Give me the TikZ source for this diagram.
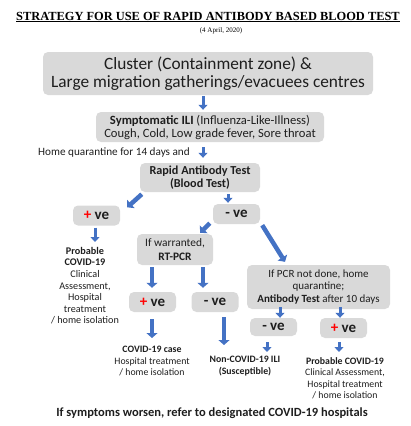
\documentclass[tikz,border=0pt]{standalone}
\usepackage{fontspec}
\setmainfont{Carlito}
\newfontfamily\titlefont{Liberation Serif}
\usetikzlibrary{arrows.meta}
\definecolor{boxgray}{HTML}{D9D9D9}
\definecolor{arrowblue}{HTML}{4472C4}
\definecolor{txt}{HTML}{1E1E1E}
\begin{document}
\begin{tikzpicture}[x=1pt,y=-1pt,
  box/.style={fill=boxgray, rounded corners=5pt, align=center, inner sep=0pt, anchor=center, text=txt},
  vebox/.style={box, minimum width=47pt, minimum height=20pt, font=\fontsize{15}{17}\selectfont\bfseries},
  plain/.style={align=center, inner sep=0pt, text=txt, font=\fontsize{9.8}{11.6}\selectfont},
  barrow/.style={draw=arrowblue, line width=3pt, -{Triangle[width=9pt,length=5pt]}},
  bigarrow/.style={draw=arrowblue, line width=4.5pt, -{Triangle[width=11pt,length=5pt]}},
]
\useasboundingbox (0,0) rectangle (410,426);
% title
\node[inner sep=0pt, font=\titlefont\fontsize{12.4}{14}\selectfont\bfseries] (title) at (208,17)
  {\underline{STRATEGY FOR USE OF RAPID ANTIBODY BASED BLOOD TEST}};
\node[inner sep=0pt, font=\titlefont\fontsize{7}{8}\selectfont] (date) at (221,31) {(4 April, 2020)};
% boxes
\node[box, minimum width=330pt, minimum height=43pt, font=\fontsize{17.3}{18}\selectfont] (b1) at (208,73.5)
  {Cluster (Containment zone) \&\\Large migration gatherings/evacuees centres};
\node[box, minimum width=228pt, minimum height=30pt, font=\fontsize{12.6}{13}\selectfont] (b2) at (210,127)
  {\textbf{Symptomatic ILI} (Influenza-Like-Illness)\\Cough, Cold, Low grade fever, Sore throat};
\node[plain, anchor=west, font=\fontsize{11.2}{13}\selectfont] (hq) at (38,153) {Home quarantine for 14 days and};
\node[box, minimum width=120pt, minimum height=29pt, font=\fontsize{12.2}{13}\selectfont\bfseries] (b3) at (200,177.5)
  {Rapid Antibody Test\\(Blood Test)};
\node[vebox] (p1) at (96.5,215.5) {\textcolor{red}{+} ve};
\node[vebox] (n1) at (236.5,214) {- ve};
\node[box, minimum width=76pt, minimum height=31pt, font=\fontsize{11.4}{14.5}\selectfont] (rt) at (175,249.5)
  {If warranted,\\\textbf{RT-PCR}};
\node[vebox] (p2) at (152.5,302) {\textcolor{red}{+} ve};
\node[vebox] (n2) at (215,302) {- ve};
\node[box, minimum width=143pt, minimum height=44pt, font=\fontsize{11}{12.5}\selectfont] (rb) at (318.5,287)
  {If PCR not done, home\\quarantine;\\\textbf{Antibody Test} after 10 days};
\node[vebox, minimum height=18pt] (n3) at (273.5,327) {- ve};
\node[vebox] (p3) at (343.5,328) {\textcolor{red}{+} ve};
% outcome texts
\node[plain, anchor=north, font=\fontsize{10.2}{11.6}\selectfont] (t1) at (85,247) {\textbf{Probable}\\\textbf{COVID-19}\\Clinical\\Assessment,\\Hospital\\treatment\\/ home isolation};
\node[plain, anchor=north] (t2) at (152,346) {\textbf{COVID-19 case}\\Hospital treatment\\/ home isolation};
\node[plain, anchor=north, font=\fontsize{9.8}{11.6}\selectfont\bfseries] (t3) at (245,356) {Non-COVID-19 ILI\\(Susceptible)};
\node[plain, anchor=north] (t4) at (345,357) {\textbf{Probable COVID-19}\\Clinical Assessment,\\Hospital treatment\\/ home isolation};
\node[inner sep=0pt, text=txt, font=\fontsize{12.5}{14}\selectfont\bfseries] (bot) at (212,413)
  {If symptoms worsen, refer to designated COVID-19 hospitals};
% arrows
\draw[barrow] ([xshift=-5pt,yshift=-1pt]b1.south) -- ([xshift=-7pt,yshift=2pt]b2.north);
\draw[barrow] ([xshift=-7pt,yshift=-5pt]b2.south) -- ([xshift=3pt,yshift=5pt]b3.north);
\draw[bigarrow] ([xshift=2pt,yshift=-2pt]b3.south west) -- ([xshift=7pt,yshift=-2pt]p1.north east);
\draw[barrow] ([xshift=28pt,yshift=-2pt]b3.south) -- ([xshift=-8.5pt,yshift=1pt]n1.north);
\draw[bigarrow] ([xshift=-3pt,yshift=1pt]n1.south west) -- ([xshift=-13pt,yshift=1pt]rt.north east);
\draw[bigarrow] ([xshift=2pt,yshift=-1pt]n1.south east) -- ([xshift=-33.5pt,yshift=3pt]rb.north);
\draw[barrow] ([xshift=-1.5pt,yshift=-2pt]p1.south) -- ([xshift=10pt,yshift=5pt]t1.north);
\draw[bigarrow] ([xshift=-23pt,yshift=-2pt]rt.south) -- ([xshift=-0.5pt,yshift=4pt]p2.north);
\draw[bigarrow] ([xshift=28pt,yshift=-2pt]rt.south) -- ([xshift=-12pt,yshift=4pt]n2.north);
\draw[barrow] ([xshift=-38.5pt,yshift=2pt]rb.south) -- ([xshift=6.5pt]n3.north);
\draw[barrow] ([xshift=21.5pt,yshift=2pt]rb.south) -- ([xshift=-3.5pt]p3.north);
\draw[bigarrow] ([xshift=-0.5pt,yshift=-7pt]p2.south) -- ([yshift=8pt]t2.north);
\draw[bigarrow] ([xshift=9pt,yshift=-5pt]n2.south) -- ([xshift=-21pt,yshift=11pt]t3.north);
\draw[barrow] ([xshift=-6.5pt,yshift=-6pt]n3.south) -- ([xshift=22pt,yshift=4pt]t3.north);
\draw[barrow] ([xshift=-4.5pt,yshift=-4pt]p3.south) -- ([xshift=-6pt,yshift=5pt]t4.north);
\end{tikzpicture}
\end{document}
